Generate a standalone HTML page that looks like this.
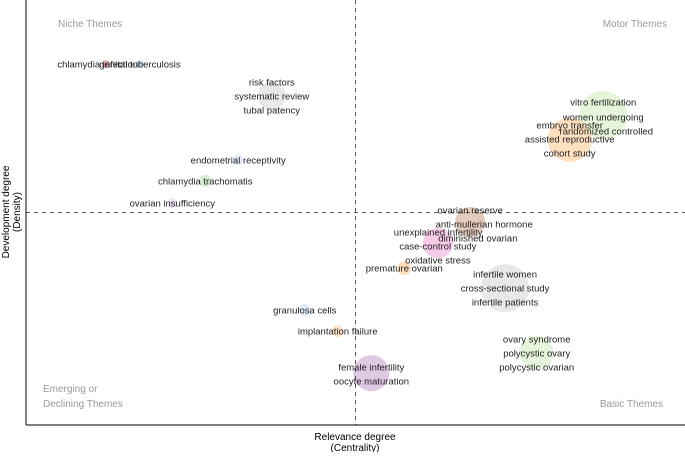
<!DOCTYPE html>
<html><head><meta charset="utf-8"><style>
body{margin:0;background:#fff;font-family:"Liberation Sans",Arial,sans-serif}
svg text{font-family:"Liberation Sans",Arial,sans-serif}
</style></head><body>
<svg id="chart" width="685" height="452" viewBox="0 0 685 452" xmlns="http://www.w3.org/2000/svg">
<g id="bubbles"></g>
<g id="lines"></g>
<g id="labels"></g>
<line x1="26" y1="0" x2="26" y2="425" stroke="#000" stroke-width="1"/>
<line x1="26" y1="425" x2="685" y2="425" stroke="#000" stroke-width="1"/>
<text x="58" y="27" font-size="10" fill="#999">Niche Themes</text>
<text x="667" y="27" font-size="10" fill="#999" text-anchor="end">Motor Themes</text>
<text x="43" y="392" font-size="10" fill="#999">Emerging or</text>
<text x="43" y="407" font-size="10" fill="#999">Declining Themes</text>
<text x="663" y="407" font-size="10" fill="#999" text-anchor="end">Basic Themes</text>
<text x="355" y="440" font-size="10" fill="#000" text-anchor="middle">Relevance degree</text>
<text x="355" y="451" font-size="10" fill="#000" text-anchor="middle">(Centrality)</text>
<text transform="translate(9,212) rotate(-90)" font-size="10" fill="#000" text-anchor="middle">Development degree</text>
<text transform="translate(20,212) rotate(-90)" font-size="10" fill="#000" text-anchor="middle">(Density)</text>
</svg>
<script>
const centrality=[0.121,0.173,0.373,0.322,0.272,0.222,0.674,0.625,0.574,0.727,0.423,0.473,0.524,0.775,0.876,0.825];
const density=[0.849,0.849,0.774,0.624,0.574,0.522,0.478,0.428,0.369,0.322,0.271,0.221,0.122,0.169,0.729,0.671];
const sizes=[4,4,14,5,6,5,15,15,7,24,6,6,18,17,24,22];
const colors=["#f08080","#9ec2e6","#d9d9d9","#cfd8f0","#b8e0b0","#e3d6ef","#d4a88e","#f4a6dc","#fdc890","#d9d9d9","#cfe0f2","#fdd2a8","#c9a3d1","#d6ecc4","#d6ecc0","#fdcc98"];
const labelCluster=[0,1,2,2,2,3,4,5,6,6,6,7,7,7,8,9,9,9,10,11,12,12,13,13,13,14,14,14,15,15,15];
const labelText=["chlamydia infection","genital tuberculosis","risk factors","systematic review","tubal patency","endometrial receptivity","chlamydia trachomatis","ovarian insufficiency","ovarian reserve","anti-mullerian hormone","unexplained infertility","diminished ovarian","case-control study","oxidative stress","premature ovarian","infertile women","cross-sectional study","infertile patients","granulosa cells","implantation failure","female infertility","oocyte maturation","ovary syndrome","polycystic ovary","polycystic ovarian","vitro fertilization","women undergoing","randomized controlled","embryo transfer","assisted reproductive","cohort study"];
const labelDx=[-8,0,0,0,0,0,0,0,0,14,-32,40,0,0,0,0,0,0,0,0,0,0,0,0,0,0,0,3,0,0,0];
const labelDy=[0,0,-14,0,14,0,0,0,-12,2,10,-5,3,17,0,-14,0,14,0,0,-6,8,-14,0,14,-13,2,16,-15,-1,13];
const medianX=0.5, medianY=0.5;
const L=26,R=685,T=0,B=425;
const xs=v=>L+v*(R-L);
const ys=v=>B-v*(B-T);
const NS="http://www.w3.org/2000/svg";
const gb=document.getElementById('bubbles'),gl=document.getElementById('labels'),gd=document.getElementById('lines');
centrality.forEach((c,i)=>{
 const e=document.createElementNS(NS,'circle');
 e.setAttribute('cx',xs(c));e.setAttribute('cy',ys(density[i]));e.setAttribute('r',sizes[i]);
 e.setAttribute('fill',colors[i]);e.setAttribute('fill-opacity','0.6');
 
 
 gb.appendChild(e);
});
labelText.forEach((t,i)=>{
 const k=labelCluster[i];
 const e=document.createElementNS(NS,'text');
 e.setAttribute('x',xs(centrality[k])+labelDx[i]);
 e.setAttribute('y',ys(density[k])+labelDy[i]+3.5);
 e.setAttribute('font-size','9.5');e.setAttribute('fill','#222');e.setAttribute('text-anchor','middle');
 e.textContent=t;
 
 
 gl.appendChild(e);
});
const v=document.createElementNS(NS,'line');
v.setAttribute('x1',xs(medianX));v.setAttribute('x2',xs(medianX));v.setAttribute('y1',T);v.setAttribute('y2',B);
v.setAttribute('stroke','#555');v.setAttribute('stroke-dasharray','4,4');


gd.appendChild(v);
const h=document.createElementNS(NS,'line');
h.setAttribute('y1',ys(medianY));h.setAttribute('y2',ys(medianY));h.setAttribute('x1',L);h.setAttribute('x2',R);
h.setAttribute('stroke','#555');h.setAttribute('stroke-dasharray','4,4');


gd.appendChild(h);
</script>
</body></html>
